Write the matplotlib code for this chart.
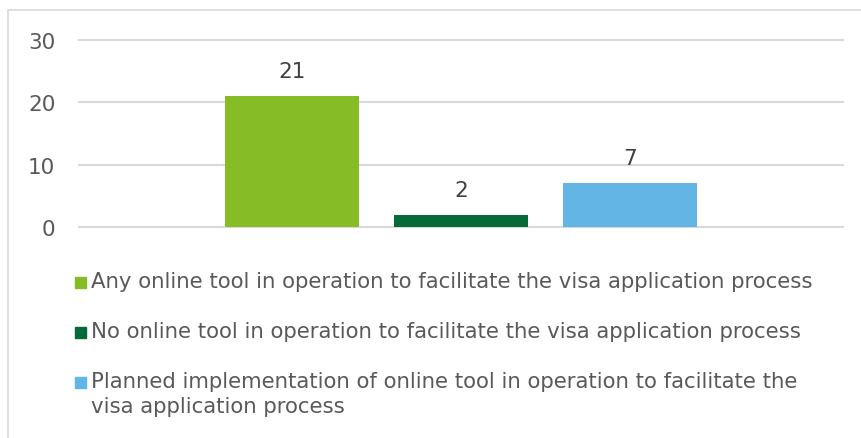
import matplotlib.pyplot as plt
from matplotlib.patches import Rectangle

labels = [
    'Any online tool in operation to facilitate the visa application process',
    'No online tool in operation to facilitate the visa application process',
    'Planned implementation of online tool in operation to facilitate the\nvisa application process',
]
values = [21, 2, 7]
colors = ['#86BC25', '#046A38', '#62B5E5']
yticks = [0, 10, 20, 30]

W, H = 861, 439
fig = plt.figure(figsize=(W / 100, H / 100), dpi=100)
ax = fig.add_axes([79 / W, 1 - 228 / H, (843 - 79) / W, (228 - 41) / H])

# light frame round the chart
fig.patches.append(Rectangle((8 / W, -0.1), 1.2, 1 - 11 / H + 0.1, transform=fig.transFigure,
                             fill=False, edgecolor='#d9d9d9', linewidth=1.2))

xs = [-1, 0, 1]
bars = ax.bar(xs, values, width=134 / 169, color=colors, zorder=3)
for x, v in zip(xs, values):
    ax.text(x, v + 4.0, str(v), ha='center', va='center', fontsize=15.5, color='#404040')

ax.set_xlim(-764 / 169 / 2, 764 / 169 / 2)
ax.set_ylim(0, 30)
ax.set_yticks(yticks)
ax.set_xticks([])
ax.grid(axis='y', color='#d9d9d9', linewidth=1.5, zorder=0)
for gl in ax.get_ygridlines():
    gl.set_clip_on(False)
for s in ax.spines.values():
    s.set_visible(False)
ax.tick_params(axis='y', length=0, labelsize=15.5, labelcolor='#595959', pad=17)

# legend drawn by hand so the marker sits on the first line of wrapped text
row_y = [283, 333, 383]
for y, lab, c in zip(row_y, labels, colors):
    fig.patches.append(Rectangle((75 / W, 1 - (y + 5.5) / H), 11 / W, 11 / H,
                                 transform=fig.transFigure, color=c))
    fig.text(91 / W, 1 - (y - 11) / H, lab, ha='left', va='top', fontsize=15.3,
             color='#595959', linespacing=1.3)

fig.savefig('out.png', dpi=100)
